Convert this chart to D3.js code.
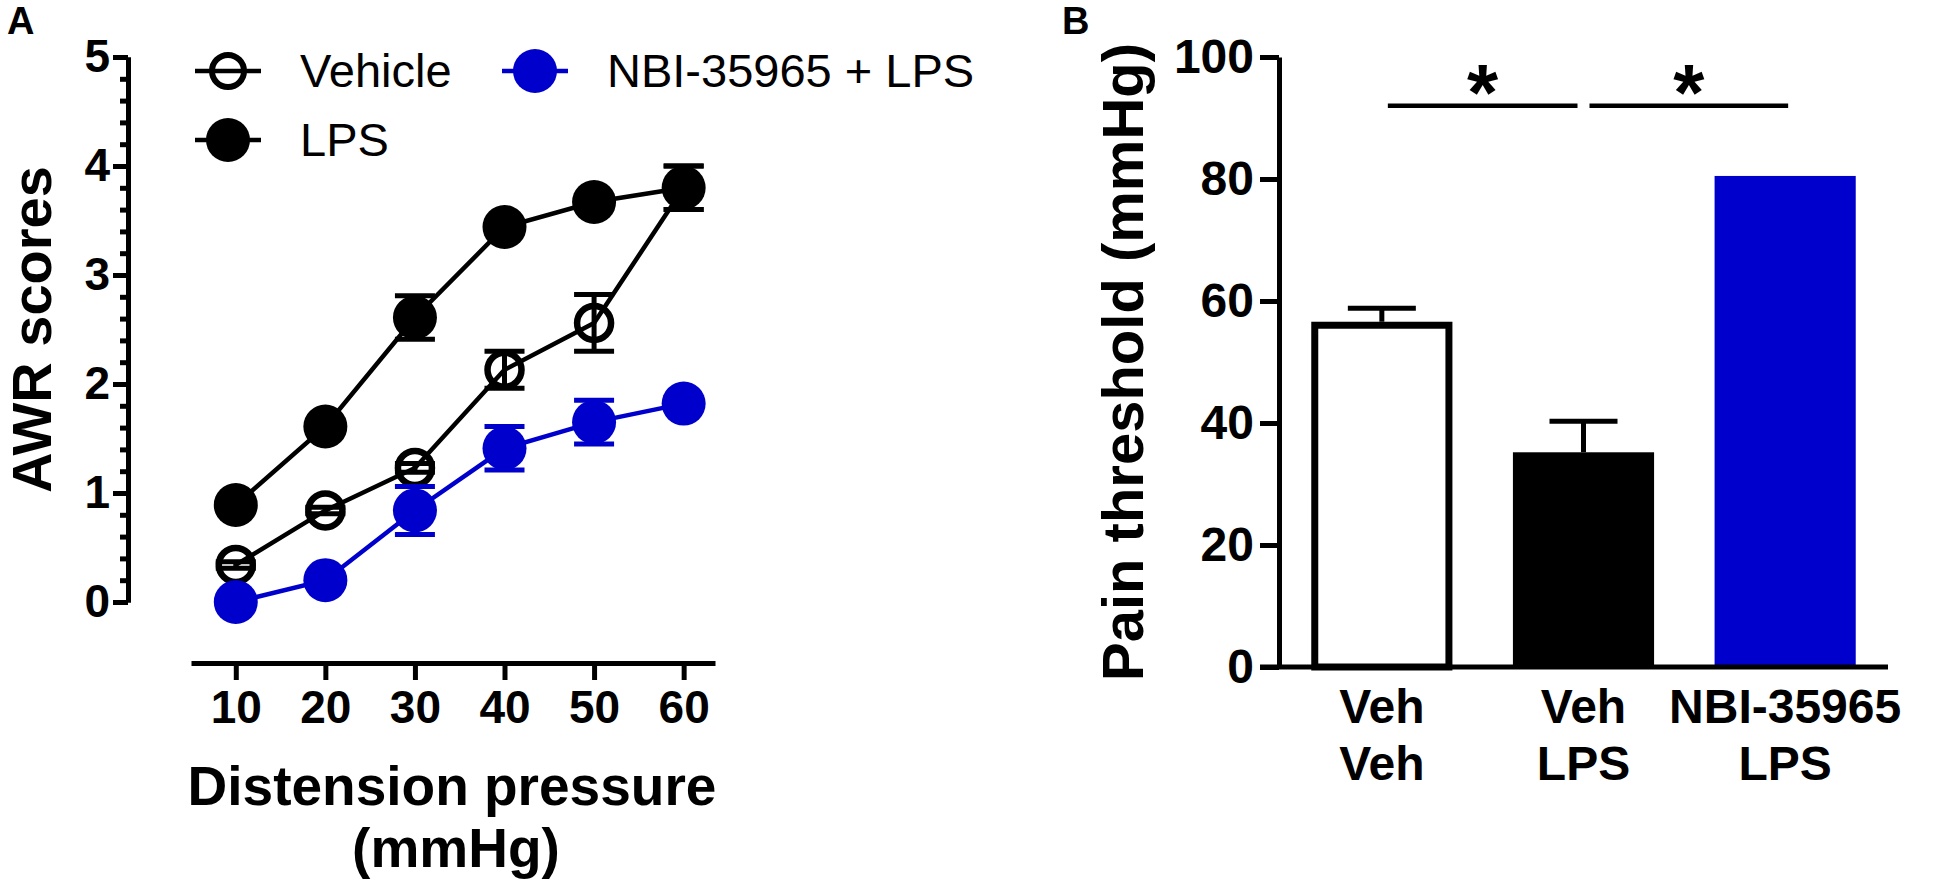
<!DOCTYPE html>
<html>
<head>
<meta charset="utf-8">
<script src="https://cdn.jsdelivr.net/npm/d3@7"></script>
<style>
  body { margin: 0; background: #fff; }
  svg { display: block; font-family: "Liberation Sans", Arial, sans-serif; }
</style>
</head>
<body>
<svg id="chart" width="1933" height="892"></svg>
<script>
// Panel A: AWR scores vs distension pressure (mean +/- SEM)
const pressures = [10, 20, 30, 40, 50, 60];
const vehicleMean = [0.34, 0.84, 1.23, 2.13, 2.56, 3.80];
const vehicleSem = [0.03, 0.03, 0.04, 0.17, 0.26, 0.20];
const lpsMean = [0.89, 1.61, 2.61, 3.44, 3.67, 3.80];
const lpsSem = [0.05, 0.05, 0.20, 0.05, 0.05, 0.20];
const nbiMean = [0.00, 0.20, 0.84, 1.41, 1.65, 1.82];
const nbiSem = [0.00, 0.05, 0.22, 0.20, 0.20, 0.05];
const awrTicks = [0, 1, 2, 3, 4, 5];
const awrMinorTicks = d3.range(0, 5.01, 0.2);

// Panel B: pain threshold
const groupTop = ["Veh", "Veh", "NBI-35965"];
const groupBottom = ["Veh", "LPS", "LPS"];
const thresholdMean = [56.6, 35.2, 80.5];
const thresholdSem = [2.2, 5.1, 0];
const thresholdTicks = [0, 20, 40, 60, 80, 100];
const comparisons = [[0, 1], [1, 2]];
const sigLevel = 92;

const BLUE = "#0000cc";
const svg = d3.select("#chart");

// ---------- Panel A ----------
const xA = d3.scaleLinear().domain([5, 63.5]).range([191, 715]);
const yA = d3.scaleLinear().domain([0, 5]).range([602, 57]);
const axisAX = 128, axisAY = 663;

svg.append("text")
    .attr("x", 7).attr("y", 34)
    .attr("font-size", 38).attr("font-weight", "bold")
    .text("A");

// minor ticks
const yMinor = svg.append("g")
    .attr("transform", `translate(${axisAX},0)`)
    .call(d3.axisLeft(yA).tickValues(awrMinorTicks).tickSize(8).tickSizeOuter(0).tickFormat(""));
// major ticks + labels
const yMajor = svg.append("g")
    .attr("transform", `translate(${axisAX},0)`)
    .call(d3.axisLeft(yA).tickValues(awrTicks).tickSize(15).tickSizeOuter(0).tickPadding(3).tickFormat(d3.format("d")));

const xAxisA = svg.append("g")
    .attr("transform", `translate(0,${axisAY})`)
    .call(d3.axisBottom(xA).tickValues(pressures).tickSize(17).tickSizeOuter(0).tickPadding(10));

[yMinor, yMajor, xAxisA].forEach(g => {
    g.select(".domain").attr("stroke", "#000").attr("stroke-width", 5);
    g.selectAll(".tick line").attr("stroke", "#000").attr("stroke-width", 5);
    g.selectAll("text")
        .attr("fill", "#000")
        .style("font-size", "46px")
        .style("font-weight", "bold")
        .style("font-family", "'Liberation Sans', Arial, sans-serif");
});

svg.append("text")
    .attr("transform", `translate(51,${(yA(0) + yA(5)) / 2}) rotate(-90)`)
    .attr("text-anchor", "middle")
    .attr("font-size", 56).attr("font-weight", "bold")
    .text("AWR scores");

const xTitleA = svg.append("text")
    .attr("text-anchor", "middle")
    .attr("font-size", 55).attr("font-weight", "bold");
xTitleA.append("tspan").attr("x", 452).attr("y", 805).text("Distension pressure");
xTitleA.append("tspan").attr("x", 456).attr("y", 867).text("(mmHg)");

const seriesA = [
    {name: "Vehicle", mean: vehicleMean, sem: vehicleSem, color: "#000", open: true},
    {name: "LPS", mean: lpsMean, sem: lpsSem, color: "#000", open: false},
    {name: "NBI-35965 + LPS", mean: nbiMean, sem: nbiSem, color: BLUE, open: false}
];

const line = d3.line().x(d => xA(d.p)).y(d => yA(d.m));

seriesA.forEach(s => {
    const pts = pressures.map((p, i) => ({p: p, m: s.mean[i], e: s.sem[i]}));
    const g = svg.append("g");

    // error bars
    pts.filter(d => d.e > 0).forEach(d => {
        g.append("line")
            .attr("x1", xA(d.p)).attr("x2", xA(d.p))
            .attr("y1", yA(d.m - d.e)).attr("y2", yA(d.m + d.e))
            .attr("stroke", s.color).attr("stroke-width", 5);
        [d.m - d.e, d.m + d.e].forEach(v => {
            g.append("line")
                .attr("x1", xA(d.p) - 20).attr("x2", xA(d.p) + 20)
                .attr("y1", yA(v)).attr("y2", yA(v))
                .attr("stroke", s.color).attr("stroke-width", 5);
        });
    });

    g.append("path")
        .datum(pts)
        .attr("fill", "none")
        .attr("stroke", s.color)
        .attr("stroke-width", 4.5)
        .attr("d", line);

    g.selectAll("circle")
        .data(pts)
        .join("circle")
        .attr("cx", d => xA(d.p))
        .attr("cy", d => yA(d.m))
        .attr("r", s.open ? 17 : 22)
        .attr("fill", s.open ? "none" : s.color)
        .attr("stroke", s.color)
        .attr("stroke-width", s.open ? 6.5 : 0);
});

// legend
const legendPos = [{x: 228, y: 71}, {x: 228, y: 140}, {x: 535, y: 71}];
seriesA.forEach((s, i) => {
    const p = legendPos[i];
    svg.append("line")
        .attr("x1", p.x - 33).attr("x2", p.x + 33)
        .attr("y1", p.y).attr("y2", p.y)
        .attr("stroke", s.color).attr("stroke-width", 4.5);
    svg.append("circle")
        .attr("cx", p.x).attr("cy", p.y)
        .attr("r", s.open ? 16 : 22)
        .attr("fill", s.open ? "none" : s.color)
        .attr("stroke", s.color)
        .attr("stroke-width", s.open ? 6 : 0);
    svg.append("text")
        .attr("x", p.x + 72).attr("y", p.y + 16)
        .attr("font-size", 47)
        .text(s.name);
});

// ---------- Panel B ----------
const axisBX = 1279;
const xB = d3.scaleBand()
    .domain(d3.range(thresholdMean.length))
    .range([axisBX, 1888])
    .paddingInner(0.3)
    .paddingOuter(0.16);
const yB = d3.scaleLinear().domain([0, 100]).range([667, 57]);

svg.append("text")
    .attr("x", 1062).attr("y", 34)
    .attr("font-size", 38).attr("font-weight", "bold")
    .text("B");

const yAxisB = svg.append("g")
    .attr("transform", `translate(${axisBX},0)`)
    .call(d3.axisLeft(yB).tickValues(thresholdTicks).tickSize(19).tickSizeOuter(0).tickPadding(6));
yAxisB.select(".domain").attr("stroke", "#000").attr("stroke-width", 5);
yAxisB.selectAll(".tick line").attr("stroke", "#000").attr("stroke-width", 5);
yAxisB.selectAll("text")
    .attr("fill", "#000")
    .style("font-size", "48px")
    .style("font-weight", "bold")
    .style("font-family", "'Liberation Sans', Arial, sans-serif");

svg.append("text")
    .attr("transform", `translate(1143,${(yB(0) + yB(100)) / 2}) rotate(-90)`)
    .attr("text-anchor", "middle")
    .attr("font-size", 58).attr("font-weight", "bold")
    .text("Pain threshold (mmHg)");

const barFill = ["#fff", "#000", BLUE];
const barStroke = ["#000", "#000", BLUE];

// error bars (upper only)
thresholdMean.forEach((m, i) => {
    if (thresholdSem[i] <= 0) return;
    const cx = xB(i) + xB.bandwidth() / 2;
    svg.append("line")
        .attr("x1", cx).attr("x2", cx)
        .attr("y1", yB(m)).attr("y2", yB(m + thresholdSem[i]))
        .attr("stroke", "#000").attr("stroke-width", 5);
    svg.append("line")
        .attr("x1", cx - 34).attr("x2", cx + 34)
        .attr("y1", yB(m + thresholdSem[i])).attr("y2", yB(m + thresholdSem[i]))
        .attr("stroke", "#000").attr("stroke-width", 5);
});

svg.selectAll(".bar")
    .data(thresholdMean)
    .join("rect")
    .attr("class", "bar")
    .attr("x", (d, i) => xB(i) + (i === 0 ? 3.5 : 0))
    .attr("width", (d, i) => xB.bandwidth() - (i === 0 ? 7 : 0))
    .attr("y", (d, i) => yB(d) + (i === 0 ? 3.5 : 0))
    .attr("height", (d, i) => yB(0) - yB(d) - (i === 0 ? 3.5 : 0))
    .attr("fill", (d, i) => barFill[i])
    .attr("stroke", (d, i) => i === 0 ? barStroke[i] : "none")
    .attr("stroke-width", 7);

// x axis line
svg.append("line")
    .attr("x1", axisBX - 19).attr("x2", xB.range()[1])
    .attr("y1", yB(0)).attr("y2", yB(0))
    .attr("stroke", "#000").attr("stroke-width", 5);

// group labels
thresholdMean.forEach((m, i) => {
    const cx = xB(i) + xB.bandwidth() / 2;
    const t = svg.append("text")
        .attr("text-anchor", "middle")
        .attr("font-size", 48).attr("font-weight", "bold");
    t.append("tspan").attr("x", cx).attr("y", 723).text(groupTop[i]);
    t.append("tspan").attr("x", cx).attr("y", 780).text(groupBottom[i]);
});

// significance lines
comparisons.forEach(([a, b], k) => {
    const x1 = xB(a) + xB.bandwidth() / 2 + 6;
    const x2 = xB(b) + xB.bandwidth() / 2 - 6 + (k === 1 ? 9 : 0);
    svg.append("line")
        .attr("x1", x1).attr("x2", x2)
        .attr("y1", yB(sigLevel)).attr("y2", yB(sigLevel))
        .attr("stroke", "#000").attr("stroke-width", 4.5);
    svg.append("text")
        .attr("x", (x1 + x2) / 2).attr("y", yB(sigLevel) + 14)
        .attr("text-anchor", "middle")
        .attr("font-size", 80).attr("font-weight", "bold")
        .text("*");
});
</script>
</body>
</html>
